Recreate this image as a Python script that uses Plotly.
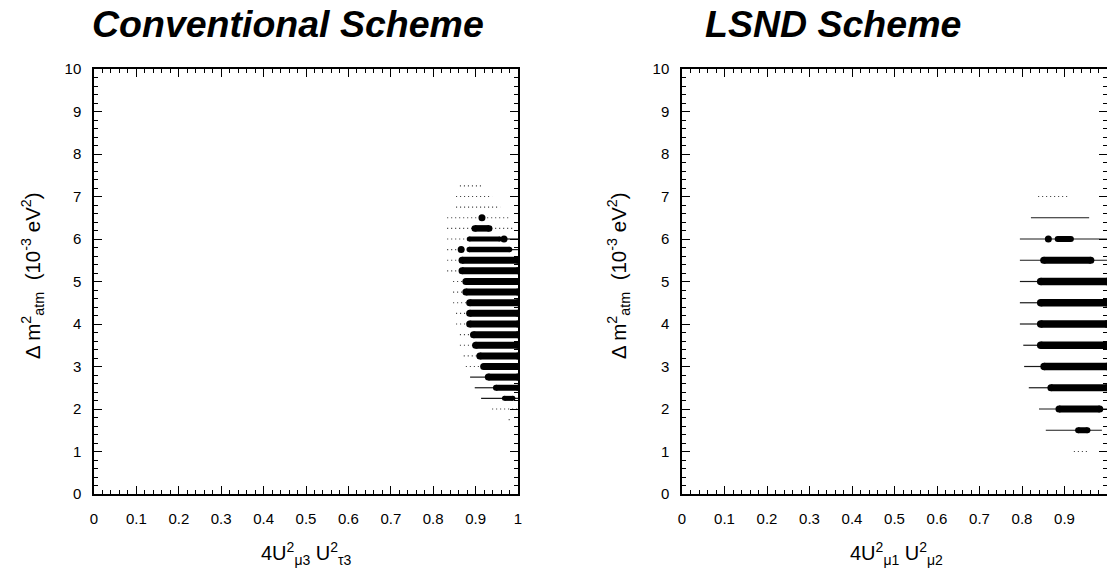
import plotly.graph_objects as go

# ---------------- data ----------------
# Conventional scheme (left panel)
conv_faint_y  = [7.25, 7.0, 6.75, 6.5, 6.25, 6.0, 5.75, 5.5, 5.25, 5.0, 4.75, 4.5, 4.25, 4.0, 3.75, 3.5, 3.25, 3.0, 2.0, 1.75]
conv_faint_x0 = [0.863, 0.854, 0.854, 0.833, 0.833, 0.833, 0.833, 0.833, 0.833, 0.847, 0.847, 0.847, 0.854, 0.854, 0.863, 0.863, 0.872, 0.877, 0.939, 0.978]
conv_faint_x1 = [0.918, 0.939, 0.958, 0.981, 0.988, 0.975, 0.870, 0.865, 0.865, 0.875, 0.875, 0.885, 0.885, 0.885, 0.895, 0.900, 0.910, 0.918, 1.000, 0.981]

conv_thin_y  = [6.0, 5.75, 2.75, 2.5, 2.25]
conv_thin_x0 = [0.960, 0.980, 0.887, 0.898, 0.913]
conv_thin_x1 = [1.000, 1.000, 0.925, 0.945, 1.000]

conv_band_y  = [6.25, 6.0, 5.75, 5.5, 5.25, 5.0, 4.75, 4.5, 4.25, 4.0, 3.75, 3.5, 3.25, 3.0, 2.75, 2.5, 2.25]
conv_band_x0 = [0.898, 0.885, 0.885, 0.868, 0.868, 0.877, 0.877, 0.886, 0.886, 0.886, 0.895, 0.900, 0.910, 0.919, 0.930, 0.948, 0.968]
conv_band_x1 = [0.932, 0.957, 0.980, 1.000, 1.000, 1.000, 1.000, 1.000, 1.000, 1.000, 1.000, 1.000, 1.000, 1.000, 1.000, 1.000, 0.988]
conv_band_w  = [6.5, 5, 5.5, 7, 7, 7, 7, 7, 7, 7, 7, 7, 7, 7, 7, 6, 5]

conv_dot_y = [6.5, 6.0, 5.75]
conv_dot_x = [0.915, 0.967, 0.866]
conv_dot_s = [7, 7, 7]

# LSND scheme (right panel)
lsnd_faint_y  = [7.0, 1.0]
lsnd_faint_x0 = [0.838, 0.922]
lsnd_faint_x1 = [0.913, 0.955]

lsnd_thin_y  = [6.5, 6.0, 5.5, 5.0, 4.5, 4.0, 3.5, 3.0, 2.5, 2.0, 1.5]
lsnd_thin_x0 = [0.821, 0.795, 0.795, 0.795, 0.795, 0.795, 0.803, 0.805, 0.816, 0.840, 0.856]
lsnd_thin_x1 = [0.958, 1.000, 1.000, 0.840, 0.840, 0.840, 0.840, 0.850, 0.865, 1.000, 0.988]

lsnd_band_y  = [6.0, 5.5, 5.0, 4.5, 4.0, 3.5, 3.0, 2.5, 2.0, 1.5]
lsnd_band_x0 = [0.884, 0.851, 0.844, 0.844, 0.844, 0.844, 0.852, 0.868, 0.887, 0.932]
lsnd_band_x1 = [0.915, 0.962, 1.000, 1.000, 1.000, 1.000, 1.000, 1.000, 0.983, 0.954]
lsnd_band_w  = [6, 7, 7.5, 7.5, 7.5, 7.5, 7.5, 7, 7, 6]

lsnd_dot_y = [6.0]
lsnd_dot_x = [0.862]
lsnd_dot_s = [7]

titles = ["Conventional Scheme", "LSND Scheme"]
xlabels = ["4U<sup>2</sup><sub>μ3</sub> U<sup>2</sup><sub>τ3</sub>",
           "4U<sup>2</sup><sub>μ1</sub> U<sup>2</sup><sub>μ2</sub>"]
ylabel = "Δ m<sup>2</sup><sub>atm</sub>  (10<sup>-3</sup> eV<sup>2</sup>)"

# ---------------- figure ----------------
W, H = 1107, 571
FONT = "Liberation Sans, Arial, Helvetica, sans-serif"
fig = go.Figure()


def add_panel(xa, ya, fy, fx0, fx1, ty, tx0, tx1, by, bx0, bx1, bw, dy, dx, ds):
    for y, a, b in zip(fy, fx0, fx1):
        fig.add_trace(go.Scatter(x=[a, b], y=[y, y], mode="lines", xaxis=xa, yaxis=ya,
                                 line=dict(color="#333333", width=1.1, dash="1px,3px"),
                                 showlegend=False, hoverinfo="skip"))
    for y, a, b in zip(ty, tx0, tx1):
        fig.add_trace(go.Scatter(x=[a, b], y=[y, y], mode="lines", xaxis=xa, yaxis=ya,
                                 line=dict(color="#1a1a1a", width=1.2),
                                 showlegend=False, hoverinfo="skip"))
    for y, a, b, w in zip(by, bx0, bx1, bw):
        fig.add_trace(go.Scatter(x=[a, b], y=[y, y], mode="lines+markers", xaxis=xa, yaxis=ya,
                                 line=dict(color="black", width=w),
                                 marker=dict(color="black", size=w, opacity=1, line=dict(width=0)),
                                 showlegend=False, hoverinfo="skip"))
    fig.add_trace(go.Scatter(x=dx, y=dy, mode="markers", xaxis=xa, yaxis=ya,
                             marker=dict(color="black", size=ds, opacity=1, line=dict(width=0)),
                             showlegend=False, hoverinfo="skip"))


add_panel("x", "y", conv_faint_y, conv_faint_x0, conv_faint_x1,
          conv_thin_y, conv_thin_x0, conv_thin_x1,
          conv_band_y, conv_band_x0, conv_band_x1, conv_band_w,
          conv_dot_y, conv_dot_x, conv_dot_s)
add_panel("x2", "y2", lsnd_faint_y, lsnd_faint_x0, lsnd_faint_x1,
          lsnd_thin_y, lsnd_thin_x0, lsnd_thin_x1,
          lsnd_band_y, lsnd_band_x0, lsnd_band_x1, lsnd_band_w,
          lsnd_dot_y, lsnd_dot_x, lsnd_dot_s)

ydom = [(H - 494) / H, (H - 69) / H]
xdom1 = [94 / W, 518 / W]
xdom2 = [682 / W, 1.0]

common = dict(showline=True, linecolor="black", linewidth=1.5, mirror="allticks",
              ticks="inside", ticklen=8, tickwidth=1, tickcolor="black",
              showgrid=False, zeroline=False,
              tickfont=dict(family=FONT, size=15, color="black"),
              automargin=False)

fig.update_layout(
    width=W, height=H,
    margin=dict(l=0, r=0, t=0, b=0),
    paper_bgcolor="white", plot_bgcolor="white",
    xaxis=dict(domain=xdom1, anchor="y", range=[0, 1], dtick=0.1, ticklabelstandoff=10,
               minor=dict(ticks="inside", ticklen=4, dtick=0.02, tickcolor="black"), **common),
    yaxis=dict(domain=ydom, anchor="x", range=[0, 10], dtick=1, ticklabelstandoff=8,
               minor=dict(ticks="inside", ticklen=4, dtick=0.2, tickcolor="black"), **common),
    xaxis2=dict(domain=xdom2, anchor="y2", range=[0, 1], dtick=0.1, ticklabelstandoff=10,
                minor=dict(ticks="inside", ticklen=4, dtick=0.02, tickcolor="black"), **common),
    yaxis2=dict(domain=ydom, anchor="x2", range=[0, 10], dtick=1, ticklabelstandoff=8,
                minor=dict(ticks="inside", ticklen=4, dtick=0.2, tickcolor="black"), **common),
)

ann = []
for cx, t in zip([288, 833], titles):
    ann.append(dict(x=cx / W, y=1 - 24 / H, xref="paper", yref="paper", text=t, showarrow=False,
                    xanchor="center", yanchor="middle",
                    font=dict(family=FONT, size=37.5, color="black", weight="bold", style="italic")))
for cx, t in zip([306, 896], xlabels):
    ann.append(dict(x=cx / W, y=1 - 553 / H, xref="paper", yref="paper", text=t, showarrow=False,
                    xanchor="center", yanchor="middle",
                    font=dict(family=FONT, size=20, color="black")))
for cx in [32, 618]:
    ann.append(dict(x=cx / W, y=1 - 276 / H, xref="paper", yref="paper", text=ylabel, showarrow=False,
                    xanchor="center", yanchor="middle", textangle=-90,
                    font=dict(family=FONT, size=20.5, color="black")))
fig.update_layout(annotations=ann)

fig.write_html("out.html")
